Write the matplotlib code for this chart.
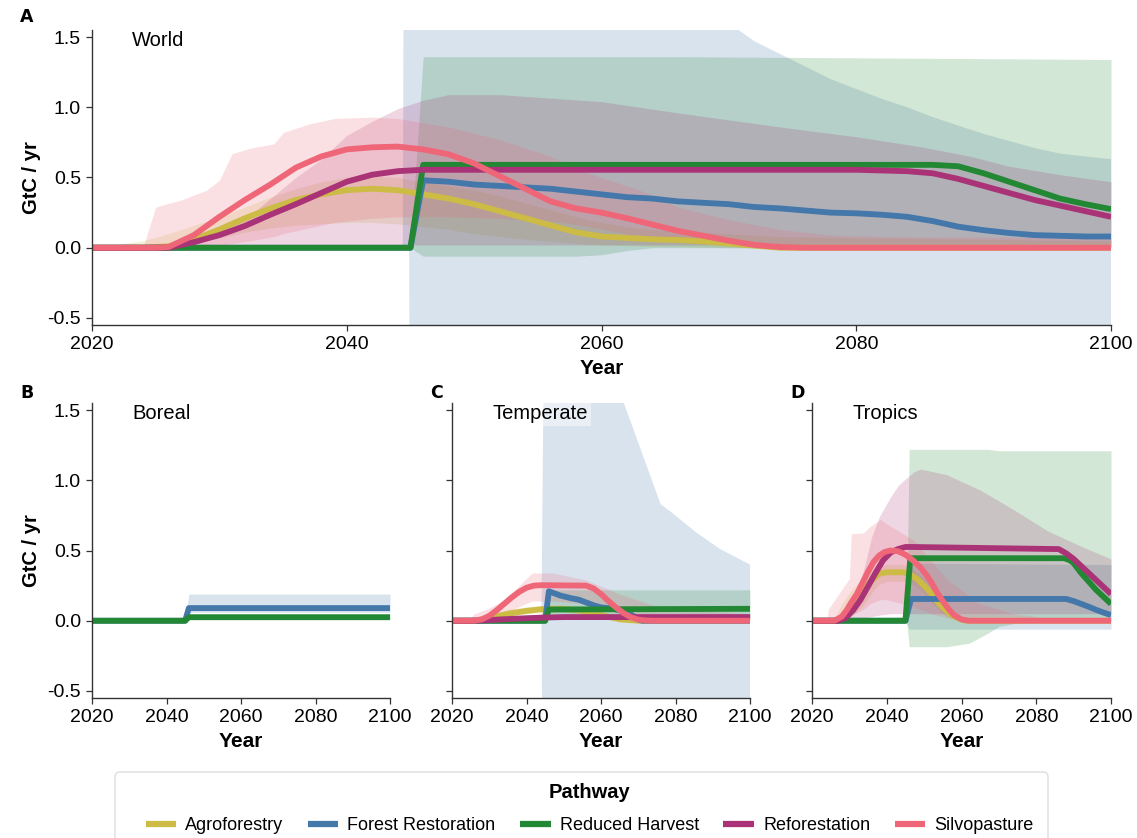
import matplotlib.pyplot as plt
from matplotlib.lines import Line2D
from matplotlib.patches import FancyBboxPatch
from matplotlib.transforms import IdentityTransform

plt.rcParams['font.family'] = ['Liberation Sans', 'DejaVu Sans']

PATHWAYS = ["Agroforestry", "Forest Restoration", "Reduced Harvest", "Reforestation", "Silvopasture"]
COLORS = ["#CCBB44", "#4477AA", "#228833", "#AA3377", "#EE6677"]

Y_TICKS = [-0.5, 0.0, 0.5, 1.0, 1.5]
Y_TICK_LABELS = ["-0.5", "0.0", "0.5", "1.0", "1.5"]
X_TICKS = [2020, 2040, 2060, 2080, 2100]

# ---------------------------------------------------------------- World
world_agro_yr = [2020, 2024, 2026, 2028, 2030, 2032, 2034, 2036, 2038, 2040, 2042, 2044, 2046, 2048, 2050,
                 2052, 2054, 2056, 2058, 2060, 2062, 2064, 2066, 2068, 2070, 2072, 2074, 2080, 2090, 2100]
world_agro_mid = [0, 0, 0.01, 0.06, 0.13, 0.21, 0.28, 0.34, 0.38, 0.41, 0.42, 0.41, 0.38, 0.35, 0.31,
                  0.26, 0.21, 0.16, 0.11, 0.08, 0.07, 0.06, 0.055, 0.045, 0.03, 0.015, 0.0, 0, 0, 0]
world_agro_band_yr = world_agro_yr
world_agro_lo = [0, 0, 0.005, 0.03, 0.07, 0.11, 0.14, 0.16, 0.17, 0.18, 0.18, 0.17, 0.15, 0.13, 0.10,
                 0.08, 0.06, 0.045, 0.03, 0.02, 0.015, 0.01, 0.01, 0.005, 0, 0, 0, 0, 0, 0]
world_agro_hi = [0, 0.05, 0.10, 0.16, 0.22, 0.29, 0.36, 0.42, 0.47, 0.50, 0.51, 0.50, 0.47, 0.44, 0.41,
                 0.37, 0.32, 0.27, 0.22, 0.18, 0.15, 0.13, 0.12, 0.11, 0.10, 0.09, 0.08, 0.07, 0.06, 0.05]

world_restor_yr = [2020, 2044, 2045, 2046, 2048, 2050, 2052, 2054, 2056, 2058, 2060, 2062, 2064, 2066, 2068,
                   2070, 2072, 2074, 2076, 2078, 2080, 2082, 2084, 2086, 2088, 2090, 2092, 2094, 2096, 2098, 2100]
world_restor_mid = [0, 0, 0, 0.48, 0.47, 0.45, 0.44, 0.43, 0.42, 0.40, 0.38, 0.36, 0.35, 0.33, 0.32,
                    0.31, 0.29, 0.28, 0.265, 0.25, 0.245, 0.235, 0.22, 0.19, 0.15, 0.125, 0.105, 0.09, 0.085, 0.08, 0.08]
world_restor_band_yr = [2044.4, 2044.5, 2044.9, 2045, 2068, 2070, 2072, 2074, 2076, 2078, 2080, 2082, 2084,
                        2086, 2088, 2090, 2092, 2094, 2096, 2098, 2100]
world_restor_lo = [0, 0, 0, -3, -3, -3, -3, -3, -3, -3, -3, -3, -3, -3, -3, -3, -3, -3, -3, -3, -3]
world_restor_hi = [0, 3, 3, 3, 2.4, 1.6, 1.47, 1.38, 1.29, 1.20, 1.13, 1.06, 1.00,
                   0.93, 0.87, 0.81, 0.76, 0.71, 0.67, 0.65, 0.63]

world_harvest_yr = [2020, 2045, 2046, 2084, 2086, 2088, 2090, 2092, 2094, 2096, 2098, 2100]
world_harvest_mid = [0, 0, 0.59, 0.59, 0.59, 0.58, 0.53, 0.47, 0.41, 0.35, 0.31, 0.275]
world_harvest_band_yr = [2045, 2046, 2058, 2060, 2062, 2064, 2066, 2100]
world_harvest_lo = [0, -0.06, -0.06, -0.05, -0.02, 0.0, 0.0, 0.0]
world_harvest_hi = [0, 1.36, 1.36, 1.36, 1.36, 1.36, 1.36, 1.34]

world_refor_yr = [2020, 2026, 2028, 2030, 2032, 2034, 2036, 2038, 2040, 2042, 2044, 2046, 2048, 2080,
                  2084, 2086, 2088, 2090, 2092, 2094, 2096, 2098, 2100]
world_refor_mid = [0, 0, 0.04, 0.09, 0.155, 0.235, 0.31, 0.39, 0.47, 0.52, 0.545, 0.555, 0.555, 0.555,
                   0.545, 0.53, 0.49, 0.44, 0.39, 0.34, 0.30, 0.26, 0.22]
world_refor_band_yr = [2026, 2030, 2032, 2034, 2036, 2038, 2040, 2042, 2044, 2046, 2048, 2052, 2060, 2066,
                       2074, 2080, 2085, 2089, 2092, 2096, 2100]
world_refor_lo = [0, 0, 0.01, 0.01, 0.02, 0.02, 0.02, 0.02, 0.02, 0.02, 0.02, 0.02, 0.02, 0.02,
                  0.02, 0.02, 0.02, 0.02, 0.02, 0.02, 0.02]
world_refor_hi = [0, 0.10, 0.20, 0.35, 0.50, 0.63, 0.80, 0.90, 0.99, 1.05, 1.09, 1.09, 1.04, 0.96,
                  0.86, 0.79, 0.72, 0.65, 0.58, 0.52, 0.47]

world_silvo_yr = [2020, 2025, 2026, 2028, 2030, 2032, 2034, 2036, 2038, 2040, 2042, 2044, 2046, 2048, 2050,
                  2052, 2054, 2056, 2058, 2060, 2062, 2064, 2066, 2068, 2070, 2072, 2074, 2076, 2100]
world_silvo_mid = [0, 0, 0.005, 0.09, 0.22, 0.34, 0.45, 0.57, 0.65, 0.70, 0.715, 0.72, 0.70, 0.665, 0.60,
                   0.51, 0.42, 0.33, 0.28, 0.25, 0.21, 0.165, 0.12, 0.085, 0.05, 0.02, 0.005, 0, 0]
world_silvo_band_yr = [2024, 2025, 2027, 2029, 2030, 2031, 2032.5, 2034.3, 2035, 2037, 2039, 2042, 2044,
                       2048, 2052, 2056, 2059, 2063, 2066, 2070, 2074, 2078, 2082, 2100]
world_silvo_lo = [0, 0, 0.0, 0.01, 0.02, 0.03, 0.05, 0.08, 0.10, 0.14, 0.18, 0.21, 0.22,
                  0.22, 0.21, 0.19, 0.15, 0.08, 0.04, 0.02, 0.01, 0.0, 0.0, 0.0]
world_silvo_hi = [0, 0.29, 0.34, 0.41, 0.48, 0.67, 0.71, 0.74, 0.82, 0.88, 0.92, 0.93, 0.92,
                  0.86, 0.77, 0.65, 0.53, 0.41, 0.29, 0.20, 0.13, 0.09, 0.08, 0.07]

# ---------------------------------------------------------------- Boreal
boreal_restor_yr = [2020, 2045, 2046, 2100]
boreal_restor_mid = [0, 0, 0.09, 0.09]
boreal_restor_band_yr = [2045, 2046, 2100]
boreal_restor_lo = [0, 0.06, 0.06]
boreal_restor_hi = [0, 0.19, 0.19]

boreal_harvest_yr = [2020, 2045, 2046, 2100]
boreal_harvest_mid = [0, 0, 0.025, 0.025]
boreal_harvest_band_yr = [2045, 2046, 2100]
boreal_harvest_lo = [0, 0.01, 0.01]
boreal_harvest_hi = [0, 0.05, 0.05]

# ---------------------------------------------------------------- Temperate
temp_agro_yr = [2020, 2026, 2030, 2035, 2040, 2045, 2050, 2055, 2060, 2065, 2070, 2100]
temp_agro_mid = [0, 0, 0.02, 0.05, 0.07, 0.085, 0.085, 0.07, 0.04, 0.01, 0, 0]
temp_agro_band_yr = temp_agro_yr
temp_agro_lo = [0, 0, 0.01, 0.03, 0.05, 0.06, 0.06, 0.05, 0.02, 0, 0, 0]
temp_agro_hi = [0, 0, 0.04, 0.08, 0.10, 0.11, 0.11, 0.10, 0.07, 0.03, 0.01, 0]

temp_restor_yr = [2020, 2045, 2046, 2049, 2052, 2054, 2056, 2058, 2060, 2062, 2065, 2068, 2070, 2071, 2100]
temp_restor_mid = [0, 0, 0.21, 0.18, 0.16, 0.15, 0.13, 0.11, 0.095, 0.09, 0.075, 0.045, 0.01, 0, 0]
temp_restor_band_yr = [2044, 2045, 2065, 2066, 2076, 2079.5, 2085.5, 2092, 2100]
temp_restor_lo = [0, -3, -3, -3, -3, -3, -3, -3, -3]
temp_restor_hi = [0, 3, 3, 1.56, 0.83, 0.76, 0.63, 0.51, 0.40]

temp_harvest_yr = [2020, 2045, 2046, 2100]
temp_harvest_mid = [0, 0, 0.08, 0.085]
temp_harvest_band_yr = [2045, 2046, 2100]
temp_harvest_lo = [0, 0.01, 0.01]
temp_harvest_hi = [0, 0.22, 0.22]

temp_refor_yr = [2020, 2026, 2030, 2035, 2040, 2045, 2050, 2100]
temp_refor_mid = [0, 0, 0.005, 0.012, 0.018, 0.023, 0.026, 0.026]
temp_refor_band_yr = temp_refor_yr
temp_refor_lo = [0, 0, 0, 0.005, 0.01, 0.012, 0.015, 0.015]
temp_refor_hi = [0, 0, 0.01, 0.025, 0.035, 0.04, 0.045, 0.045]

temp_silvo_yr = [2020, 2026, 2028, 2030, 2032, 2034, 2036, 2038, 2040, 2042, 2044, 2056, 2058, 2060, 2062,
                 2064, 2066, 2068, 2070, 2072, 2074, 2100]
temp_silvo_mid = [0, 0, 0.01, 0.035, 0.075, 0.12, 0.165, 0.205, 0.235, 0.25, 0.253, 0.25, 0.23, 0.19, 0.14,
                  0.095, 0.055, 0.025, 0.008, 0.002, 0, 0]
temp_silvo_band_yr = [2024, 2026, 2030, 2034, 2038, 2041.5, 2047, 2056, 2065, 2074, 2083, 2100]
temp_silvo_lo = [0, 0, 0.01, 0.05, 0.10, 0.14, 0.14, 0.12, 0.05, 0.01, 0, 0]
temp_silvo_hi = [0, 0.05, 0.09, 0.15, 0.25, 0.34, 0.34, 0.29, 0.19, 0.11, 0.076, 0.05]

# ---------------------------------------------------------------- Tropics
trop_agro_yr = [2020, 2026, 2028, 2030, 2032, 2034, 2036, 2038, 2040, 2044.5, 2046, 2048, 2050, 2052,
                2054, 2056, 2058, 2060, 2061, 2100]
trop_agro_mid = [0, 0, 0.02, 0.06, 0.13, 0.22, 0.29, 0.335, 0.345, 0.345, 0.33, 0.30, 0.25, 0.19,
                 0.12, 0.07, 0.03, 0.008, 0, 0]
trop_agro_band_yr = trop_agro_yr
trop_agro_lo = [0, 0, 0.0, 0.02, 0.06, 0.12, 0.20, 0.26, 0.28, 0.28, 0.27, 0.24, 0.19, 0.13,
                0.07, 0.03, 0.01, 0, 0, 0]
trop_agro_hi = [0, 0.02, 0.12, 0.20, 0.26, 0.31, 0.36, 0.39, 0.40, 0.40, 0.38, 0.35, 0.30, 0.23,
                0.15, 0.09, 0.04, 0.01, 0, 0]

trop_restor_yr = [2020, 2045, 2046.5, 2088, 2090, 2092, 2094, 2096, 2098, 2100]
trop_restor_mid = [0, 0, 0.155, 0.155, 0.14, 0.12, 0.10, 0.078, 0.058, 0.04]
trop_restor_band_yr = [2045, 2046, 2100]
trop_restor_lo = [0, -0.06, -0.06]
trop_restor_hi = [0, 0.41, 0.40]

trop_harvest_yr = [2020, 2045, 2046.3, 2087.5, 2089, 2090, 2092, 2094, 2096, 2098, 2100]
trop_harvest_mid = [0, 0, 0.445, 0.445, 0.43, 0.41, 0.34, 0.28, 0.22, 0.17, 0.12]
trop_harvest_band_yr = [2045.3, 2046, 2056, 2062, 2067, 2070, 2074, 2080, 2100]
trop_harvest_lo = [0, -0.185, -0.185, -0.16, -0.09, -0.04, -0.02, -0.01, 0]
trop_harvest_hi = [0, 1.22, 1.22, 1.22, 1.22, 1.21, 1.21, 1.21, 1.21]

trop_refor_yr = [2020, 2027, 2029, 2031, 2033, 2035, 2037, 2039, 2041, 2043, 2045, 2047, 2086, 2088,
                 2090, 2092, 2094, 2096, 2098, 2100]
trop_refor_mid = [0, 0, 0.02, 0.075, 0.15, 0.245, 0.34, 0.43, 0.485, 0.51, 0.525, 0.525, 0.51, 0.48,
                  0.44, 0.39, 0.34, 0.29, 0.24, 0.19]
trop_refor_band_yr = [2027, 2030, 2032, 2034, 2036, 2038, 2041, 2043, 2045, 2047.3, 2049, 2056, 2065,
                      2074, 2083, 2092, 2100]
trop_refor_lo = [0, 0, 0.01, 0.02, 0.03, 0.04, 0.05, 0.05, 0.05, 0.05, 0.05, 0.05, 0.05, 0.05, 0.05,
                 0.05, 0.05]
trop_refor_hi = [0, 0.10, 0.20, 0.38, 0.60, 0.74, 0.88, 0.96, 1.01, 1.06, 1.08, 1.04, 0.93, 0.79, 0.64,
                 0.53, 0.44]

trop_silvo_yr = [2020, 2026, 2028, 2029.3, 2030.5, 2032, 2033.5, 2035, 2036.5, 2038, 2039.5, 2041, 2043,
                 2045, 2047, 2049, 2050.5, 2052, 2053.5, 2055, 2056.5, 2058, 2060, 2062, 2100]
trop_silvo_mid = [0, 0, 0.03, 0.076, 0.13, 0.19, 0.27, 0.35, 0.42, 0.465, 0.49, 0.50, 0.495,
                  0.47, 0.43, 0.38, 0.33, 0.27, 0.20, 0.14, 0.085, 0.04, 0.01, 0, 0]
trop_silvo_band_yr = [2024, 2024.3, 2030, 2030.5, 2033.7, 2035.5, 2038.3, 2040, 2047.3, 2051.8, 2056.3,
                      2065, 2074, 2083, 2100]
trop_silvo_lo = [0, 0, 0.02, 0.04, 0.08, 0.12, 0.15, 0.15, 0.10, 0.05, 0.02, 0, 0, 0, 0]
trop_silvo_hi = [0, 0.08, 0.30, 0.62, 0.625, 0.67, 0.72, 0.69, 0.57, 0.43, 0.29, 0.12, 0.05, 0.02, 0.01]


def series(yr, mid, band_yr, lo, hi):
    return dict(yr=yr, mid=mid, band_yr=band_yr, lo=lo, hi=hi)


# panel letter, region name, {pathway: series}
panels = [
    ("A", "World", {
        "Agroforestry": series(world_agro_yr, world_agro_mid, world_agro_band_yr, world_agro_lo, world_agro_hi),
        "Forest Restoration": series(world_restor_yr, world_restor_mid, world_restor_band_yr,
                                     world_restor_lo, world_restor_hi),
        "Reduced Harvest": series(world_harvest_yr, world_harvest_mid, world_harvest_band_yr,
                                  world_harvest_lo, world_harvest_hi),
        "Reforestation": series(world_refor_yr, world_refor_mid, world_refor_band_yr, world_refor_lo, world_refor_hi),
        "Silvopasture": series(world_silvo_yr, world_silvo_mid, world_silvo_band_yr, world_silvo_lo, world_silvo_hi),
    }),
    ("B", "Boreal", {
        "Forest Restoration": series(boreal_restor_yr, boreal_restor_mid, boreal_restor_band_yr,
                                     boreal_restor_lo, boreal_restor_hi),
        "Reduced Harvest": series(boreal_harvest_yr, boreal_harvest_mid, boreal_harvest_band_yr,
                                  boreal_harvest_lo, boreal_harvest_hi),
    }),
    ("C", "Temperate", {
        "Agroforestry": series(temp_agro_yr, temp_agro_mid, temp_agro_band_yr, temp_agro_lo, temp_agro_hi),
        "Forest Restoration": series(temp_restor_yr, temp_restor_mid, temp_restor_band_yr,
                                     temp_restor_lo, temp_restor_hi),
        "Reduced Harvest": series(temp_harvest_yr, temp_harvest_mid, temp_harvest_band_yr,
                                  temp_harvest_lo, temp_harvest_hi),
        "Reforestation": series(temp_refor_yr, temp_refor_mid, temp_refor_band_yr, temp_refor_lo, temp_refor_hi),
        "Silvopasture": series(temp_silvo_yr, temp_silvo_mid, temp_silvo_band_yr, temp_silvo_lo, temp_silvo_hi),
    }),
    ("D", "Tropics", {
        "Agroforestry": series(trop_agro_yr, trop_agro_mid, trop_agro_band_yr, trop_agro_lo, trop_agro_hi),
        "Forest Restoration": series(trop_restor_yr, trop_restor_mid, trop_restor_band_yr,
                                     trop_restor_lo, trop_restor_hi),
        "Reduced Harvest": series(trop_harvest_yr, trop_harvest_mid, trop_harvest_band_yr,
                                  trop_harvest_lo, trop_harvest_hi),
        "Reforestation": series(trop_refor_yr, trop_refor_mid, trop_refor_band_yr, trop_refor_lo, trop_refor_hi),
        "Silvopasture": series(trop_silvo_yr, trop_silvo_mid, trop_silvo_band_yr, trop_silvo_lo, trop_silvo_hi),
    }),
]

W, H = 1137, 838


def px_rect(left, top, right, bottom):
    return [left / W, 1 - bottom / H, (right - left) / W, (bottom - top) / H]


rects = [px_rect(92, 30, 1111, 325), px_rect(92, 403, 390, 698),
         px_rect(452, 403, 750, 698), px_rect(812, 403, 1111, 698)]

fig = plt.figure(figsize=(W / 100, H / 100), dpi=100)

for i, ((letter, region, data), rect) in enumerate(zip(panels, rects)):
    ax = fig.add_axes(rect)

    # uncertainty ribbons first, median lines on top
    for name, color in zip(PATHWAYS, COLORS):
        if name in data:
            s = data[name]
            ax.fill_between(s["band_yr"], s["lo"], s["hi"], color=color, alpha=0.2, lw=0)
    for name, color in zip(PATHWAYS, COLORS):
        if name in data:
            s = data[name]
            ax.plot(s["yr"], s["mid"], color=color, lw=4.2, solid_capstyle="butt", solid_joinstyle="round")

    ax.set_xlim(2020, 2100)
    ax.set_ylim(-0.55, 1.55)
    ax.set_xticks(X_TICKS)
    ax.set_yticks(Y_TICKS)
    ax.spines[["top", "right"]].set_visible(False)
    for sp in ("left", "bottom"):
        ax.spines[sp].set_color("#333333")
        ax.spines[sp].set_linewidth(1.0)
    ax.tick_params(length=4, width=0.9, color="#333333", labelsize=14, pad=4)

    if i <= 1:
        ax.set_yticklabels(Y_TICK_LABELS)
        ax.set_ylabel("GtC / yr", fontsize=14.5, fontweight="bold")
        ax.yaxis.set_label_coords(-51 / (rect[2] * W), 0.5)
    else:
        ax.set_yticklabels([])

    ax.set_xlabel("Year", fontsize=15, fontweight="bold", labelpad=4)

    ax.annotate(region, xy=(0, 1), xycoords="axes fraction", xytext=(29, -7.5), textcoords="offset points",
                ha="left", va="center", fontsize=14.5,
                bbox=dict(boxstyle="square,pad=0.15", facecolor="white", alpha=0.45, edgecolor="none"))

    lx = rect[0] * W - (72 if i <= 1 else 22)
    fig.text(lx / W, 1 - (17 if i == 0 else 393) / H, letter, fontsize=12.5, fontweight="bold",
             ha="left", va="center", family=["DejaVu Sans"])

handles = [Line2D([], [], color=c, lw=4.5, solid_capstyle="butt") for c in COLORS]
leg = fig.legend(handles, PATHWAYS, loc="upper center", bbox_to_anchor=(589.5 / W, 1 - 772 / H),
                 ncol=5, fontsize=13, title="Pathway", frameon=False,
                 handlelength=1.7, handletextpad=0.5, columnspacing=1.35, borderpad=0.6,
                 labelspacing=0.85, borderaxespad=0)
leg.get_title().set_fontweight("bold")
leg.get_title().set_fontsize(14.5)

# legend frame, running off the bottom edge of the figure
frame = FancyBboxPatch((115, -20), 933, H - 772 + 20, boxstyle="round,pad=0,rounding_size=5",
                       facecolor="white", edgecolor="#dddddd", linewidth=1.0,
                       transform=IdentityTransform(), zorder=-1)
fig.add_artist(frame)

fig.savefig("out.png", dpi=100)
